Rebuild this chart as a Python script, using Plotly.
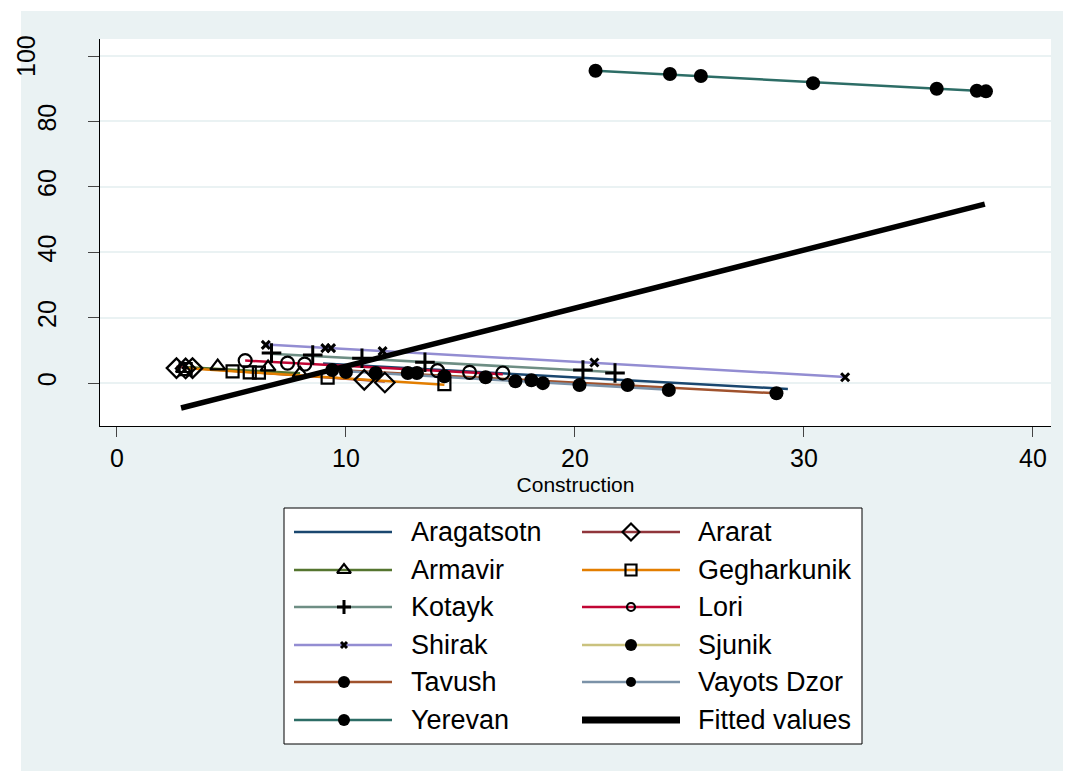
import plotly.graph_objects as go

# ---------------- data ----------------
regions = ["Aragatsotn", "Ararat", "Armavir", "Gegharkunik", "Kotayk", "Lori",
           "Shirak", "Sjunik", "Tavush", "Vayots Dzor", "Yerevan"]

# observed points (Construction, y)
ararat_x = [2.6, 3.0, 3.3, 10.8, 11.7]
ararat_y = [4.6, 4.5, 4.6, 1.0, 0.2]
armavir_x = [2.9, 4.4, 6.6, 8.0]
armavir_y = [4.4, 5.2, 4.9, 3.0]
gegh_x = [3.0, 5.05, 5.8, 6.2, 9.2, 14.3]
gegh_y = [4.3, 3.6, 3.3, 3.2, 1.7, -0.3]
kotayk_x = [6.75, 8.55, 10.7, 13.45, 20.35, 21.75]
kotayk_y = [9.2, 8.6, 7.6, 6.4, 4.0, 3.1]
lori_x = [5.6, 7.45, 8.2, 14.0, 15.4, 16.85]
lori_y = [6.9, 6.1, 5.8, 3.8, 3.3, 3.1]
shirak_x = [6.5, 9.1, 9.35, 11.6, 20.85, 31.8]
shirak_y = [11.7, 10.7, 10.7, 9.8, 6.3, 1.8]
sjunik_x = [11.3, 14.3, 18.1]
sjunik_y = [3.1, 2.1, 0.9]
tavush_x = [9.4, 13.1, 16.1, 18.6, 22.3, 28.8]
tavush_y = [4.0, 3.1, 1.8, 0.0, -0.6, -3.1]
vayots_x = [10.0, 12.7, 17.4, 20.2, 24.1]
vayots_y = [3.4, 3.1, 0.6, -0.6, -2.1]
yerevan_x = [20.9, 24.15, 25.5, 30.4, 35.8, 37.55, 37.95]
yerevan_y = [95.5, 94.5, 93.9, 91.7, 90.0, 89.4, 89.2]

# per-region fitted line end points
line_x0 = [9.0, 2.6, 2.9, 2.9, 6.7, 5.6, 6.5, 11.3, 9.4, 10.0, 20.9]
line_x1 = [29.3, 11.7, 8.0, 14.3, 21.8, 16.85, 31.8, 18.1, 28.8, 24.1, 37.95]
line_y0 = [6.0, 5.0, 4.9, 4.6, 9.0, 6.9, 11.8, 3.2, 4.1, 3.6, 95.5]
line_y1 = [-1.8, 0.5, 3.0, -0.5, 3.3, 2.7, 1.9, 0.8, -3.1, -2.0, 89.2]

# overall fitted values
fitted_x = [2.8, 37.9]
fitted_y = [-7.6, 54.7]

x_ticks = [0, 10, 20, 30, 40]
y_ticks = [0, 20, 40, 60, 80, 100]
x_title = "Construction"
fitted_name = "Fitted values"

# ---------------- styles ----------------
colors = ["#1a476f", "#90353b", "#55752f", "#e37e00", "#6e8e84", "#c10534",
          "#938dd2", "#cac27e", "#a0522d", "#7b92a8", "#2d6d66"]
points = {
    "Ararat": (ararat_x, ararat_y),
    "Armavir": (armavir_x, armavir_y),
    "Gegharkunik": (gegh_x, gegh_y),
    "Kotayk": (kotayk_x, kotayk_y),
    "Lori": (lori_x, lori_y),
    "Shirak": (shirak_x, shirak_y),
    "Sjunik": (sjunik_x, sjunik_y),
    "Tavush": (tavush_x, tavush_y),
    "Vayots Dzor": (vayots_x, vayots_y),
    "Yerevan": (yerevan_x, yerevan_y),
}
# symbol, plot size, legend size, marker line width
msty = {
    "Aragatsotn": None,
    "Ararat": ("diamond-open", 15, 13, 2.2),
    "Armavir": ("triangle-up-open", 13, 12, 2.2),
    "Gegharkunik": ("square-open", 12, 11, 2.2),
    "Kotayk": ("cross-thin-open", 14, 10, 3),
    "Lori": ("circle-open", 13, 8, 2.2),
    "Shirak": ("x-thin-open", 8, 6, 3),
    "Sjunik": ("circle", 14, 12, 0),
    "Tavush": ("circle", 14, 12, 0),
    "Vayots Dzor": ("circle", 14, 10, 0),
    "Yerevan": ("circle", 14, 12, 0),
}

W, H = 1073, 771
OFF = 8  # page body margin offset
PL, PR, PT, PB = 100 - OFF, 1051 - OFF, 39 - OFF, 426 - OFF   # plot area px
BG = "#eaf2f3"
FONT = "Arial, Liberation Sans, sans-serif"

fig = go.Figure()

# group lines
for i, r in enumerate(regions):
    fig.add_trace(go.Scatter(
        x=[line_x0[i], line_x1[i]], y=[line_y0[i], line_y1[i]],
        mode="lines", line=dict(color=colors[i], width=2.5),
        name=r, showlegend=False, hoverinfo="skip"))

# markers
for i, r in enumerate(regions):
    if r not in points:
        continue
    sym, sz, _, lw = msty[r]
    px, py = points[r]
    fig.add_trace(go.Scatter(
        x=px, y=py, mode="markers", name=r, showlegend=False,
        marker=dict(symbol=sym, size=sz, color="black",
                    line=dict(color="black", width=lw))))

# overall fit
fig.add_trace(go.Scatter(x=fitted_x, y=fitted_y, mode="lines",
                         line=dict(color="black", width=5.5),
                         name=fitted_name, showlegend=False))

# ---------------- manual legend (overlay pixel axes) ----------------
leg_names = regions + [fitted_name]
col_line = [(294 - OFF, 392 - OFF), (582 - OFF, 680 - OFF)]
col_mark = [344 - OFF, 631 - OFF]
col_text = [409 - OFF, 696 - OFF]
row_y = [v - OFF for v in (532, 570, 607, 645, 682, 720)]
for k, name in enumerate(leg_names):
    c = k % 2
    rrow = k // 2
    yy = row_y[rrow]
    if name == fitted_name:
        fig.add_trace(go.Scatter(x=list(col_line[c]), y=[yy, yy], mode="lines",
                                 line=dict(color="black", width=7),
                                 xaxis="x2", yaxis="y2", showlegend=False,
                                 hoverinfo="skip"))
    else:
        i = regions.index(name)
        fig.add_trace(go.Scatter(x=list(col_line[c]), y=[yy, yy], mode="lines",
                                 line=dict(color=colors[i], width=2.5),
                                 xaxis="x2", yaxis="y2", showlegend=False,
                                 hoverinfo="skip"))
        if msty[name] is not None:
            sym, _, lsz, lw = msty[name]
            fig.add_trace(go.Scatter(x=[col_mark[c]], y=[yy], mode="markers",
                                     marker=dict(symbol=sym, size=lsz, color="black",
                                                 line=dict(color="black", width=lw)),
                                     xaxis="x2", yaxis="y2", showlegend=False,
                                     hoverinfo="skip"))
    fig.add_annotation(x=col_text[c] / W, y=1 - yy / H, xref="paper", yref="paper",
                       text=name, showarrow=False, xanchor="left", yanchor="middle",
                       font=dict(family=FONT, size=27, color="black"))

# top y tick label sits further left in the reference
y_ticktext = [str(v) if v != y_ticks[-1] else "" for v in y_ticks]
fig.add_annotation(x=(26 - OFF) / W, y=y_ticks[-1], xref="paper", yref="y",
                   text=str(y_ticks[-1]), textangle=-90, showarrow=False,
                   xanchor="center", yanchor="middle",
                   font=dict(family=FONT, size=25, color="black"))

shapes = [
    dict(type="rect", xref="paper", yref="paper", x0=(21 - OFF) / W,
         x1=(1063 - OFF) / W, y0=0, y1=1 - (11 - OFF) / H,
         fillcolor=BG, line=dict(width=0), layer="below"),
    dict(type="rect", xref="paper", yref="paper", x0=PL / W, x1=PR / W,
         y0=1 - PB / H, y1=1 - PT / H, fillcolor="white", line=dict(width=0),
         layer="below"),
    dict(type="rect", xref="paper", yref="paper", x0=(284 - OFF) / W,
         x1=(862 - OFF) / W, y0=1 - (744 - OFF) / H, y1=1 - (508 - OFF) / H,
         fillcolor="white", line=dict(color="black", width=1), layer="below"),
]

fig.update_layout(
    width=W, height=H, template="none",
    margin=dict(l=0, r=0, t=0, b=0, pad=0),
    paper_bgcolor="white", plot_bgcolor="rgba(0,0,0,0)",
    font=dict(family=FONT, color="black"),
    shapes=shapes, showlegend=False,
    xaxis=dict(domain=[PL / W, PR / W], range=[-0.74, 40.79],
               tickvals=x_ticks, showgrid=False, zeroline=False,
               showline=True, linecolor="black", linewidth=1,
               ticks="outside", ticklen=10, tickcolor="#444", tickwidth=1,
               tickfont=dict(size=25), anchor="y",
               title=dict(text=x_title, font=dict(size=21), standoff=6)),
    yaxis=dict(domain=[1 - PB / H, 1 - PT / H], range=[-13.1, 105.2],
               tickvals=y_ticks, ticktext=y_ticktext,
               showgrid=True, gridcolor=BG, gridwidth=1.5,
               zeroline=False, showline=True, linecolor="black", linewidth=1,
               ticks="outside", ticklen=11, tickcolor="#444", tickwidth=1,
               tickangle=-90, tickfont=dict(size=25), ticklabelstandoff=22,
               anchor="x"),
    xaxis2=dict(domain=[0, 1], range=[0, W], visible=False, anchor="y2",
                fixedrange=True),
    yaxis2=dict(domain=[0, 1], range=[H, 0], visible=False, anchor="x2",
                fixedrange=True),
)

fig.write_html("out.html")
